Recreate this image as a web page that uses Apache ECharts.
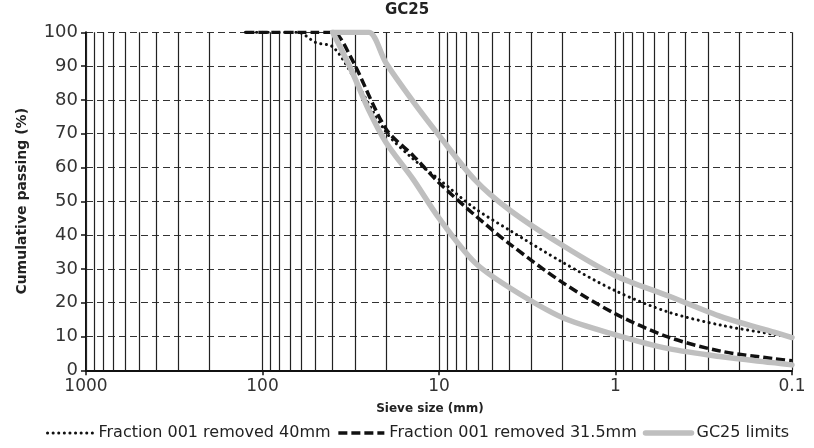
<!DOCTYPE html>
<html>
<head>
<meta charset="utf-8">
<script src="https://cdn.jsdelivr.net/npm/echarts@6/dist/echarts.min.js"></script>
<style>
html,body{margin:0;padding:0;background:#fff;}
#chart{width:814px;height:448px;}
</style>
</head>
<body>
<div id="chart"></div>
<script>
// ---- data ----
const titleText = 'GC25';
const xTickLabels = ['1000', '100', '10', '1', '0.1'];
const yTickLabels = ['0','10','20','30','40','50','60','70','80','90','100'];

const seriesNames = ['Fraction 001 removed 40mm', 'Fraction 001 removed 31.5mm', 'GC25 limits'];

// Fraction 001 removed 40mm (dotted)
const sizes40 = [125, 90, 63, 50, 40, 31.5, 20, 14, 10, 6.3, 4, 2, 1, 0.5, 0.25, 0.125, 0.1];
const pass40  = [100, 100, 100, 97, 95.7, 88, 70.5, 62.5, 56.5, 48, 41.5, 32, 23.5, 17.2, 13.3, 10.6, 9.8];

// Fraction 001 removed 31.5mm (dashed)
const sizes315 = [125, 90, 63, 50, 40, 31.5, 20, 14, 10, 6.3, 4, 2, 1, 0.5, 0.25, 0.125, 0.1];
const pass315  = [100, 100, 100, 100, 100, 92.5, 71.5, 63.5, 55.5, 46, 37.5, 26, 16.7, 9.8, 5.6, 3.4, 2.8];

// GC25 limits (upper / lower envelope)
const sizesUpper = [40, 31.5, 25, 20, 14, 10, 6.3, 4, 2, 1, 0.5, 0.25, 0.125, 0.1];
const passUpper  = [100, 100, 100, 91, 79.5, 69.5, 56.5, 47.5, 37, 28, 22, 15.8, 11.2, 9.7];
const sizesLower = [40, 31.5, 25, 20, 14, 10, 6.3, 4, 2, 1, 0.5, 0.25, 0.125, 0.1];
const passLower  = [100, 89, 77, 67.5, 56.5, 45, 32, 24.5, 15.6, 10.5, 6.4, 4, 2.2, 1.6];

// vertical log grid lines: 1..9 x 10^k between 0.1 and 1000
const gridMantissas = [1, 2, 3, 4, 5, 6, 7, 8, 9];
const gridDecades = [0.1, 1, 10, 100];

// ---- build ----
function pairs(xs, ys) { return xs.map((x, i) => [x, ys[i]]); }
const vLines = [];
gridDecades.forEach(d => gridMantissas.forEach(m => vLines.push({ xAxis: +(m * d).toPrecision(6) })));
vLines.push({ xAxis: 1000 });

const FONT = 'DejaVu Sans';
const GRAY = '#bfbfbf';
const hideSym = { opacity: 0, borderWidth: 0 };

const chart = echarts.init(document.getElementById('chart'), null, { renderer: 'canvas' });
chart.setOption({
  animation: false,
  backgroundColor: '#fff',
  textStyle: { fontFamily: FONT },
  title: {
    text: titleText, left: 'center', top: 3, padding: 0,
    textStyle: { fontFamily: FONT, fontWeight: 'bold', fontSize: 15, color: '#222' }
  },
  grid: { left: 86, right: 22, top: 32.3, bottom: 77.7, containLabel: false, outerBoundsMode: 'none' },
  legend: {
    left: 46, top: 425, itemWidth: 46, itemHeight: 14, itemGap: 6, padding: 0,
    textStyle: { fontFamily: FONT, fontSize: 16, color: '#222' },
    itemStyle: hideSym,
    data: [
      { name: seriesNames[0], itemStyle: hideSym, lineStyle: { color: '#111', width: 3, type: [0.1, 5.5], cap: 'round' } },
      { name: seriesNames[1], itemStyle: hideSym, lineStyle: { color: '#111', width: 3.5, type: [9, 4] } },
      { name: seriesNames[2], itemStyle: hideSym, lineStyle: { color: GRAY, width: 5.5, type: 'solid', cap: 'round' } }
    ]
  },
  xAxis: {
    type: 'log', logBase: 10, min: 0.1, max: 1000, inverse: true,
    name: 'Sieve size (mm)', nameLocation: 'middle', nameGap: 33,
    nameTextStyle: { fontFamily: FONT, fontWeight: 'bold', fontSize: 12, color: '#222', padding: [0, 18, 0, 0] },
    axisLine: { onZero: false, lineStyle: { color: '#111', width: 2 } },
    axisTick: { show: true, length: 5, lineStyle: { color: '#111', width: 1.5 } },
    axisLabel: {
      fontFamily: FONT, fontSize: 17, color: '#333', margin: 8,
      formatter: v => {
        const s = xTickLabels.find(t => Math.abs(parseFloat(t) - v) / v < 1e-6);
        return s !== undefined ? s : '';
      }
    },
    splitLine: { show: false },
    minorTick: { show: false }
  },
  yAxis: {
    type: 'value', min: 0, max: 100, interval: 10,
    name: 'Cumulative passing (%)', nameLocation: 'middle', nameGap: 57, nameRotate: 90,
    nameTextStyle: { fontFamily: FONT, fontWeight: 'bold', fontSize: 14, color: '#222' },
    axisLine: { show: true, lineStyle: { color: '#111', width: 2 } },
    axisTick: { show: true, length: 5, lineStyle: { color: '#111', width: 1.5 } },
    axisLabel: {
      fontFamily: FONT, fontSize: 18, color: '#333', margin: 8,
      formatter: v => yTickLabels[Math.round(v / 10)]
    },
    splitLine: { show: true, lineStyle: { color: '#333', width: 1, type: [7, 4] } }
  },
  series: [
    {
      name: '__grid', type: 'line', data: [], silent: true, z: 1,
      markLine: {
        silent: true, symbol: 'none', z: 1, animation: false,
        label: { show: false },
        lineStyle: { color: '#222', width: 1.2, type: 'solid' },
        emphasis: { disabled: true },
        data: vLines
      }
    },
    {
      name: seriesNames[0], type: 'line', data: pairs(sizes40, pass40), z: 3,
      symbol: 'none', smooth: 0.3,
      lineStyle: { color: '#111', width: 3, type: [0.1, 5.5], cap: 'round' },
      itemStyle: { color: '#111' }
    },
    {
      name: seriesNames[1], type: 'line', data: pairs(sizes315, pass315), z: 3,
      symbol: 'none', smooth: 0.3,
      lineStyle: { color: '#111', width: 3.5, type: [9, 4] },
      itemStyle: { color: '#111' }
    },
    {
      name: seriesNames[2], type: 'line', data: pairs(sizesLower, passLower), z: 4,
      symbol: 'none', smooth: 0.3,
      lineStyle: { color: GRAY, width: 5.5, cap: 'round', join: 'round' },
      itemStyle: { color: GRAY }
    },
    {
      name: seriesNames[2], type: 'line', data: pairs(sizesUpper, passUpper), z: 4,
      symbol: 'none', smooth: 0.3,
      lineStyle: { color: GRAY, width: 5.5, cap: 'round', join: 'round' },
      itemStyle: { color: GRAY }
    }
  ]
});
</script>
</body>
</html>
